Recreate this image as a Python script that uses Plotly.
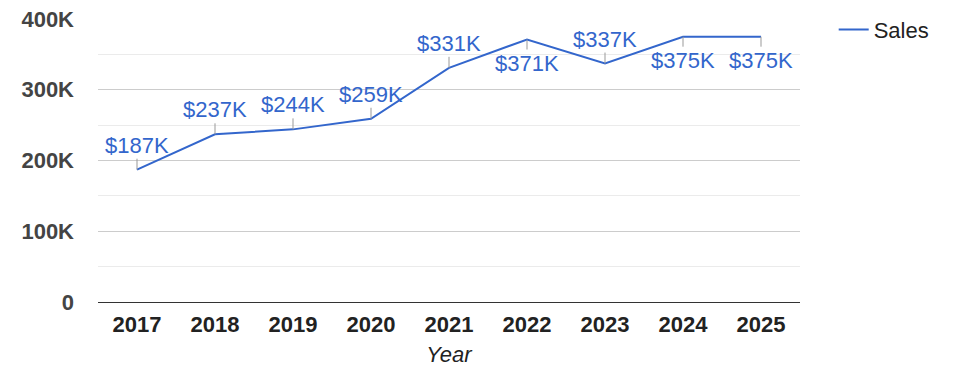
import plotly.graph_objects as go

years = ["2017", "2018", "2019", "2020", "2021", "2022", "2023", "2024", "2025"]
sales = [187000, 237000, 244000, 259000, 331000, 371000, 337000, 375000, 375000]
labels = ["$187K", "$237K", "$244K", "$259K", "$331K", "$371K", "$337K", "$375K", "$375K"]
label_below = [False, False, False, False, False, True, False, True, True]
y_tickvals = [0, 100000, 200000, 300000, 400000]
y_ticktext = ["0", "100K", "200K", "300K", "400K"]

BLUE = "#3366CC"
FONT = "Liberation Sans, Arial, sans-serif"

fig = go.Figure()
fig.add_trace(go.Scatter(
    x=years, y=sales, mode="lines", name="Sales",
    line=dict(color=BLUE, width=2),
))

for i, (y, t, b) in enumerate(zip(sales, labels, label_below)):
    fig.add_annotation(
        x=i, y=y, xref="x", yref="y", text=t, showarrow=True,
        arrowhead=0, arrowwidth=1, arrowcolor="#999999",
        ax=0, ay=(10 if b else -11), standoff=0,
        xanchor="center", yanchor=("top" if b else "bottom"),
        font=dict(family=FONT, size=22, color=BLUE),
        borderpad=0,
    )

# page body has an 8px margin, so the margins below are offset by 8px
fig.update_layout(
    width=975, height=378,
    margin=dict(l=90, r=183, t=11, b=84, autoexpand=False),
    plot_bgcolor="white", paper_bgcolor="white",
    font=dict(family=FONT, size=22, color="#222222"),
    showlegend=True,
    legend=dict(x=1.048, y=1.036, xanchor="left", yanchor="top",
                font=dict(family=FONT, size=22, color="#222222"),
                bgcolor="rgba(0,0,0,0)"),
    xaxis=dict(
        type="category", range=[-0.5, 8.5],
        showgrid=False, showline=True, linecolor="#333333", linewidth=1,
        tickfont=dict(family=FONT, size=22, color="#222222", weight="bold"),
        ticks="", ticklabelstandoff=3,
        title=dict(text="<i>Year</i>", font=dict(family=FONT, size=22, color="#222222"),
                   standoff=10),
    ),
    yaxis=dict(
        range=[0, 400000], tickvals=y_tickvals, ticktext=y_ticktext,
        showgrid=True, gridcolor="#cccccc", gridwidth=1,
        minor=dict(dtick=50000, showgrid=True, gridcolor="#ebebeb", gridwidth=1),
        zeroline=False, showline=False,
        tickfont=dict(family=FONT, size=22, color="#444444", weight="bold"),
        ticks="", ticklabelstandoff=23, ticklabeloverflow="allow",
    ),
)

fig.write_html("out.html")
